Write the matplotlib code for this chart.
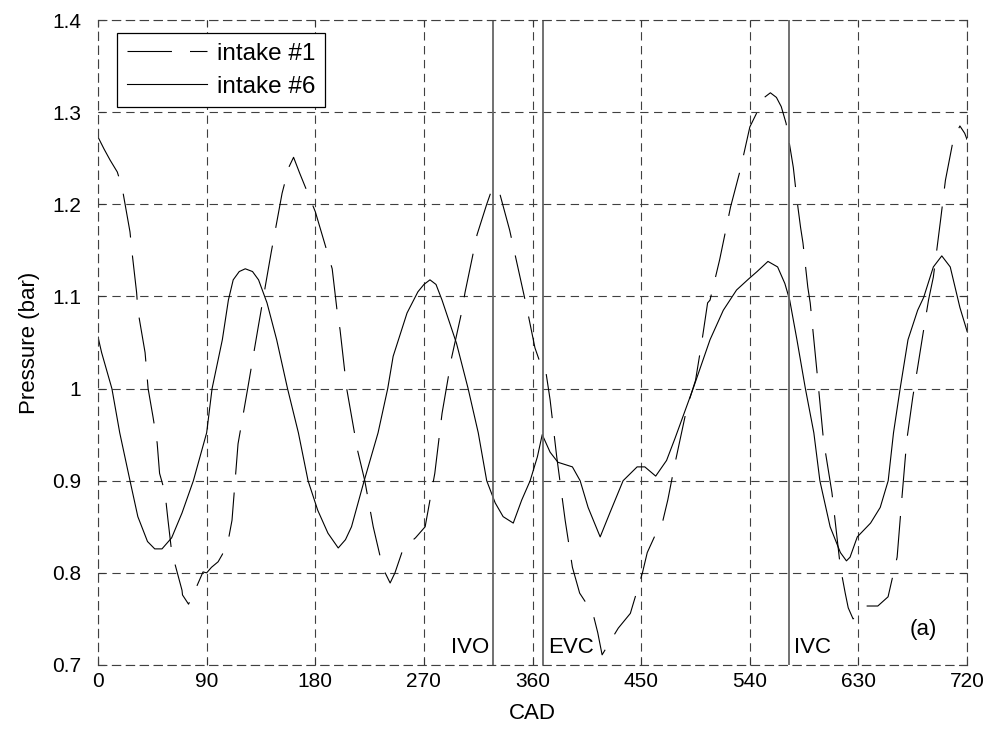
import numpy as np
import matplotlib
matplotlib.use("Agg")
import matplotlib.pyplot as plt

plt.rcParams['font.family'] = ['Liberation Sans', 'DejaVu Sans']
plt.rcParams['lines.scale_dashes'] = False

# intake #6 (solid)
cad6 = [0, 3, 11.5, 18, 26.5, 33, 41, 47, 53, 61, 69.6, 79, 90, 94.5, 103, 108,
        112, 117, 122, 128, 133, 140, 148, 157, 166, 174, 182, 190.5, 199, 205,
        210, 220.5, 232, 240, 244.5, 256, 265, 270, 275, 280, 285, 297, 306.6,
        315, 322, 329, 335.6, 344, 351, 358, 364, 368, 374.5, 381, 393, 399.4,
        406, 416, 424, 435, 446.6, 453, 462, 471, 478, 493, 507, 518, 529, 539,
        546, 555, 563, 569, 573, 579, 586, 593, 598, 606.5, 615, 620, 623, 629,
        640, 648, 654.6, 659, 664.5, 671, 679, 684, 692, 699, 706, 710, 714, 720]
p6 = [1.056, 1.039, 1.0, 0.952, 0.9, 0.861, 0.834, 0.826, 0.826, 0.838, 0.865,
      0.9, 0.952, 1.0, 1.053, 1.096, 1.118, 1.127, 1.13, 1.127, 1.118, 1.093,
      1.053, 1.0, 0.952, 0.9, 0.868, 0.843, 0.827, 0.836, 0.85, 0.9, 0.952, 1.0,
      1.035, 1.082, 1.105, 1.113, 1.118, 1.113, 1.096, 1.049, 1.0, 0.952, 0.9,
      0.876, 0.861, 0.854, 0.879, 0.9, 0.926, 0.95, 0.931, 0.92, 0.915, 0.9,
      0.871, 0.839, 0.865, 0.9, 0.915, 0.915, 0.905, 0.922, 0.946, 1.0, 1.053,
      1.085, 1.107, 1.119, 1.127, 1.138, 1.132, 1.114, 1.096, 1.053, 1.0, 0.952,
      0.9, 0.85, 0.822, 0.813, 0.817, 0.839, 0.854, 0.871, 0.9, 0.952, 1.0,
      1.053, 1.085, 1.099, 1.132, 1.144, 1.132, 1.11, 1.088, 1.062]

# intake #1 (dashed)
cad1 = [0, 5, 10, 16, 20, 26.5, 28, 32, 33, 39, 41.5, 45.6, 49, 51, 55.5, 58,
        61, 69.6, 70, 75, 80, 87, 90, 94, 99.5, 103, 108, 111, 116, 124, 133,
        143.5, 152.5, 158, 162, 167, 180, 194, 198, 200.5, 206, 215, 221, 228,
        236, 242, 246, 253, 263, 271, 279, 285, 293, 301.6, 304, 314, 322, 326,
        331.5, 341, 352, 355, 362, 366, 370, 374.5, 380, 387, 393, 399, 410,
        414, 417.6, 424, 431, 441, 451, 455, 463, 468, 472, 478, 488, 495, 500,
        505, 507, 515, 524, 532, 540, 546, 551, 557, 562, 566, 570, 576, 579,
        582, 584, 588, 590, 596, 601, 608, 615, 619, 621.5, 625.5, 631, 635.5,
        646, 654.5, 662, 666, 670, 675, 679, 683.5, 688, 692, 698, 702, 708.5,
        714, 718, 720]
p1 = [1.273, 1.26, 1.248, 1.235, 1.218, 1.17, 1.15, 1.104, 1.085, 1.039, 1.0,
      0.969, 0.941, 0.908, 0.887, 0.857, 0.823, 0.781, 0.776, 0.766, 0.78,
      0.801, 0.80, 0.806, 0.812, 0.82, 0.836, 0.857, 0.94, 1.0, 1.069, 1.148,
      1.212, 1.24, 1.251, 1.234, 1.192, 1.13, 1.085, 1.064, 1.0, 0.933, 0.9,
      0.85, 0.805, 0.789, 0.80, 0.827, 0.838, 0.85, 0.908, 0.973, 1.034, 1.085,
      1.104, 1.167, 1.2, 1.215, 1.218, 1.172, 1.107, 1.089, 1.044, 1.029, 1.027,
      0.988, 0.926, 0.857, 0.806, 0.778, 0.756, 0.735, 0.711, 0.725, 0.74,
      0.756, 0.8, 0.822, 0.845, 0.857, 0.879, 0.919, 0.98, 1.009, 1.049, 1.093,
      1.096, 1.14, 1.197, 1.237, 1.284, 1.30, 1.315, 1.321, 1.316, 1.306, 1.288,
      1.24, 1.205, 1.175, 1.158, 1.11, 1.093, 1.013, 0.944, 0.887, 0.806, 0.778,
      0.762, 0.75, 0.757, 0.764, 0.764, 0.774, 0.817, 0.882, 0.944, 0.991,
      1.023, 1.06, 1.096, 1.121, 1.183, 1.226, 1.27, 1.285, 1.277, 1.27]

events = ['IVO', 'EVC', 'IVC']
event_cad = [327, 368.5, 572.5]
xticks = [0, 90, 180, 270, 360, 450, 540, 630, 720]
yticks = [0.7, 0.8, 0.9, 1.0, 1.1, 1.2, 1.3, 1.4]
ytick_labels = ['0.7', '0.8', '0.9', '1', '1.1', '1.2', '1.3', '1.4']

fig = plt.figure(figsize=(9.95, 7.33), dpi=100)
ax = fig.add_axes([0.0985, 0.0928, 0.8735, 0.8799])

ax.plot(cad1, p1, color='black', lw=0.8, dashes=[32, 13], label='intake #1')
ax.plot(cad6, p6, color='black', lw=0.8, label='intake #6')

for name, c in zip(events, event_cad):
    ax.axvline(c, color='0.4', lw=1.3)
    if name == 'IVO':
        ax.text(c - 2.5, 0.708, name, ha='right', va='bottom', fontsize=16)
    else:
        ax.text(c + 4, 0.708, name, ha='left', va='bottom', fontsize=16)

ax.text(684, 0.738, '(a)', ha='center', va='center', fontsize=16)

ax.set_xlim(0, 720)
ax.set_ylim(0.7, 1.4)
ax.set_xticks(xticks)
ax.set_yticks(yticks)
ax.set_yticklabels(ytick_labels)
ax.tick_params(direction='in', length=5, width=0.8, top=True, right=True,
               labelsize=15, color='0.2')
ax.tick_params(axis='x', pad=5)
ax.tick_params(axis='y', pad=12)
ax.grid(True, color='0.25', ls=(0, (6, 4)), lw=0.8)
for s in ax.spines.values():
    s.set_linestyle((0, (6, 4)))
    s.set_color('0.25')
    s.set_linewidth(0.8)

ax.set_xlabel('CAD', fontsize=16, labelpad=9)
ax.set_ylabel('Pressure (bar)', fontsize=16, labelpad=9)

leg = ax.legend(loc='upper left', bbox_to_anchor=(0.022, 0.98), borderaxespad=0,
                fontsize=17.5, handlelength=3.3, handletextpad=0.4,
                labelspacing=0.45, borderpad=0.4, fancybox=False, framealpha=1)
leg.get_frame().set_edgecolor('black')
leg.get_frame().set_linewidth(0.9)

fig.savefig('out.png', dpi=100)
